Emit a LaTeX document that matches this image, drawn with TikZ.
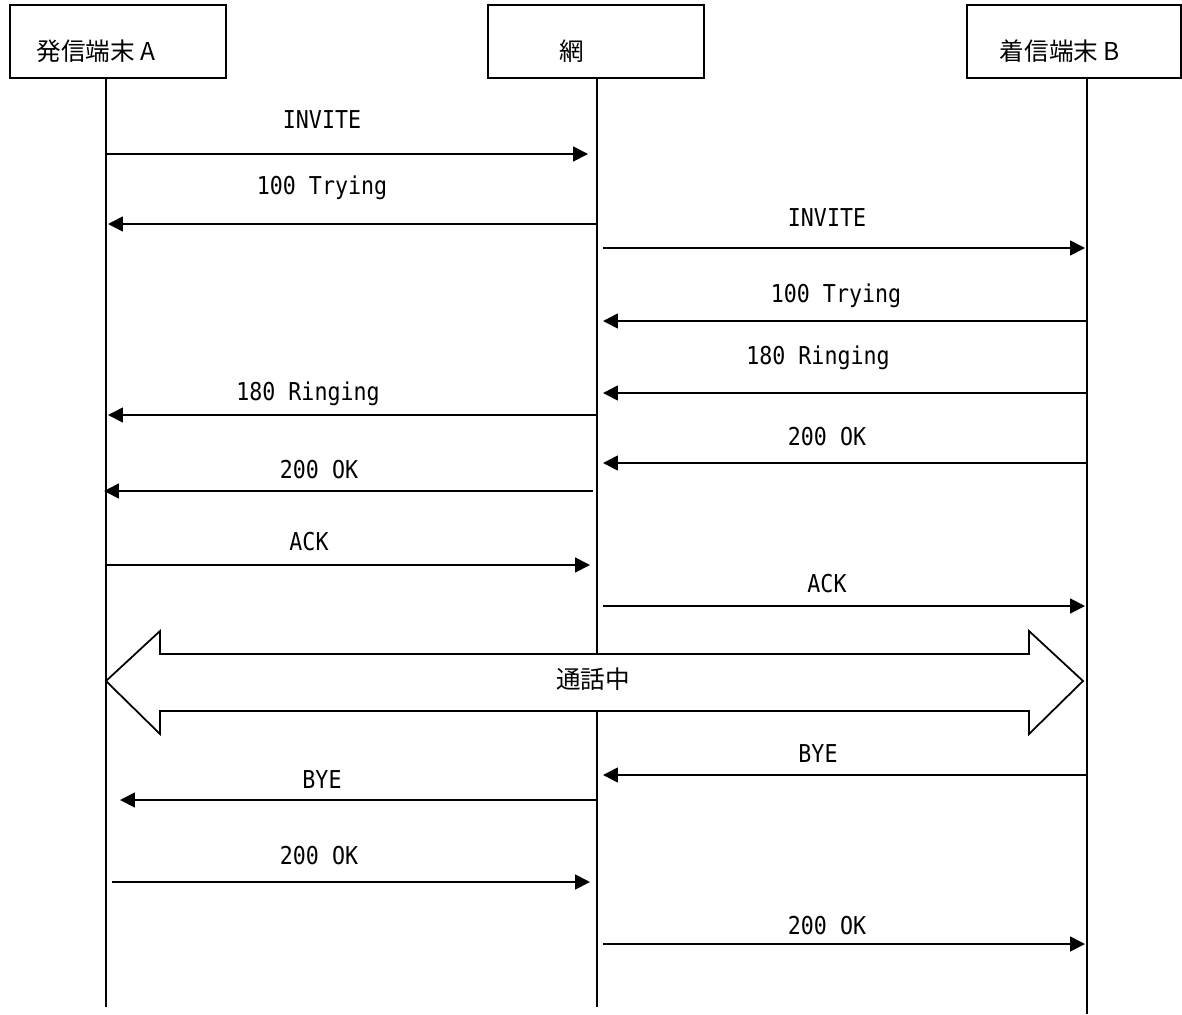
\documentclass[tikz,border=0pt]{standalone}
\usepackage{fontspec}
\setmainfont{Noto Sans CJK JP}
\setmonofont[FakeStretch=0.88]{DejaVu Sans Mono}
\usetikzlibrary{arrows.meta,calc,positioning}

\tikzset{
  actor/.style={draw,line width=1pt,minimum width=4.32cm,minimum height=1.46cm,inner sep=0pt},
  life/.style={line width=1pt},
  msg/.style={line width=1pt,-{Triangle[length=8.5pt,width=8.5pt]}},
  lbl/.style={font=\ttfamily\fontsize{14}{16}\selectfont,inner sep=1pt},
  talk/.style={draw,line width=1pt,fill=white,line join=miter},
}

\begin{document}
\begin{tikzpicture}[x=0.02cm,y=-0.02cm,font=\fontsize{14}{16}\selectfont]
\useasboundingbox (0,0) rectangle (1182,1014);
% heads
\node[actor,label={[name=At,xshift=-0.44cm,yshift=-0.19cm]center:発信端末 A}] (A) at (118,41.5) {};
\node[actor,label={[name=Nt,xshift=-0.48cm,yshift=-0.19cm]center:網}] (N) at (596,41.5) {};
\node[actor,minimum width=4.28cm,label={[name=Bt,xshift=-0.28cm,yshift=-0.19cm]center:着信端末 B}] (B) at (1074,41.5) {};
% lifelines
\coordinate (la) at (A.south -| 106,0);
\coordinate (ln) at (N.south -| 597,0);
\coordinate (lb) at (B.south -| 1087,0);
\draw[life] (la) -- (la |- 0,1007);
\draw[life] (ln) -- (ln |- 0,1007);
\draw[life] (lb) -- (lb |- 0,1014);
% call setup
\draw[msg,shorten >=0.18cm] (la |- 0,154) -- (ln |- 0,154);
\node[lbl] (l1) at (322,120) {INVITE};
\draw[msg,shorten >=0.04cm] (ln |- 0,224) -- (la |- 0,224);
\node[lbl] (l2) at (322,188) {100 Trying};
\draw[msg,shorten <=0.12cm,shorten >=0.04cm] (ln |- 0,248) -- (lb |- 0,248);
\node[lbl] (l3) at (827,218) {INVITE};
\draw[msg,shorten >=0.12cm] (lb |- 0,321) -- (ln |- 0,321);
\node[lbl] (l4) at (836,296) {100 Trying};
\draw[msg,shorten >=0.12cm] (lb |- 0,393) -- (ln |- 0,393);
\node[lbl] (l5) at (818,358) {180 Ringing};
\draw[msg,shorten >=0.04cm] (ln |- 0,415) -- (la |- 0,415);
\node[lbl] (l6) at (308,394) {180 Ringing};
\draw[msg,shorten >=0.12cm] (lb |- 0,463) -- (ln |- 0,463);
\node[lbl] (l7) at (827,437) {200 OK};
\draw[msg,shorten <=0.08cm,shorten >=-0.04cm] (ln |- 0,491) -- (la |- 0,491);
\node[lbl] (l8) at (319,470) {200 OK};
\draw[msg,shorten >=0.14cm] (la |- 0,565) -- (ln |- 0,565);
\node[lbl] (l9) at (309,542) {ACK};
\draw[msg,shorten <=0.12cm,shorten >=0.04cm] (ln |- 0,606) -- (lb |- 0,606);
\node[lbl] (l10) at (827,584) {ACK};
% talking
\draw[talk] (la |- 0,681) -- (160,631) -- (160,654) -- (1029,654) -- (1029,631)
  -- (1083,681) -- (1029,734) -- (1029,711) -- (160,711) -- (160,734) -- cycle;
\node (talklbl) at (593,679) {通話中};
% release
\draw[msg,shorten >=0.12cm] (lb |- 0,775) -- (ln |- 0,775);
\node[lbl] (l11) at (818,754) {BYE};
\draw[msg,shorten >=0.28cm] (ln |- 0,800) -- (la |- 0,800);
\node[lbl] (l12) at (322,780) {BYE};
\draw[msg,shorten <=0.12cm,shorten >=0.14cm] (la |- 0,882) -- (ln |- 0,882);
\node[lbl] (l13) at (319,856) {200 OK};
\draw[msg,shorten <=0.12cm,shorten >=0.04cm] (ln |- 0,944) -- (lb |- 0,944);
\node[lbl] (l14) at (827,926) {200 OK};
\end{tikzpicture}
\end{document}
